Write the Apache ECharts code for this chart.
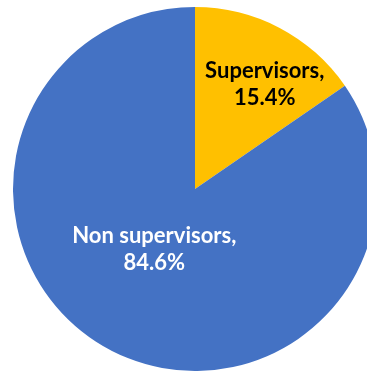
<!DOCTYPE html>
<html>
<head>
<meta charset="utf-8">
<script src="https://cdn.jsdelivr.net/npm/echarts@6/dist/echarts.min.js"></script>
<style>
  html, body { margin: 0; padding: 0; background: #fff; }
  #chart { width: 367px; height: 371px; }
</style>
</head>
<body>
<div id="chart"></div>
<script>
// Share of staff by role (percent)
const categories = ['Supervisors', 'Non supervisors'];
const shares = [15.4, 84.6];
const sliceColors = ['#FFC000', '#4472C4'];
const labelColors = ['#000000', '#FFFFFF'];

// Nudge each inside label from the slice's mid-radius point
const labelShift = [[26, -21], [3, -23]];

const chart = echarts.init(document.getElementById('chart'), null, { renderer: 'canvas' });

chart.setOption({
  animation: false,
  series: [{
    type: 'pie',
    center: [195, 189],
    radius: 182,
    startAngle: 90,
    clockwise: true,
    avoidLabelOverlap: false,
    emphasis: { disabled: true },
    itemStyle: { borderWidth: 0 },
    label: {
      show: true,
      position: 'inside',
      formatter: '{b},\n{c}%',
      fontFamily: 'Lato',
      fontWeight: 'bold',
      fontSize: 22,
      lineHeight: 27,
      align: 'center'
    },
    labelLine: { show: false },
    labelLayout: function (p) {
      const s = labelShift[p.dataIndex];
      return { dx: s[0], dy: s[1] };
    },
    data: categories.map((name, i) => ({
      name: name,
      value: shares[i],
      itemStyle: { color: sliceColors[i] },
      label: { color: labelColors[i] }
    }))
  }]
});
</script>
</body>
</html>
